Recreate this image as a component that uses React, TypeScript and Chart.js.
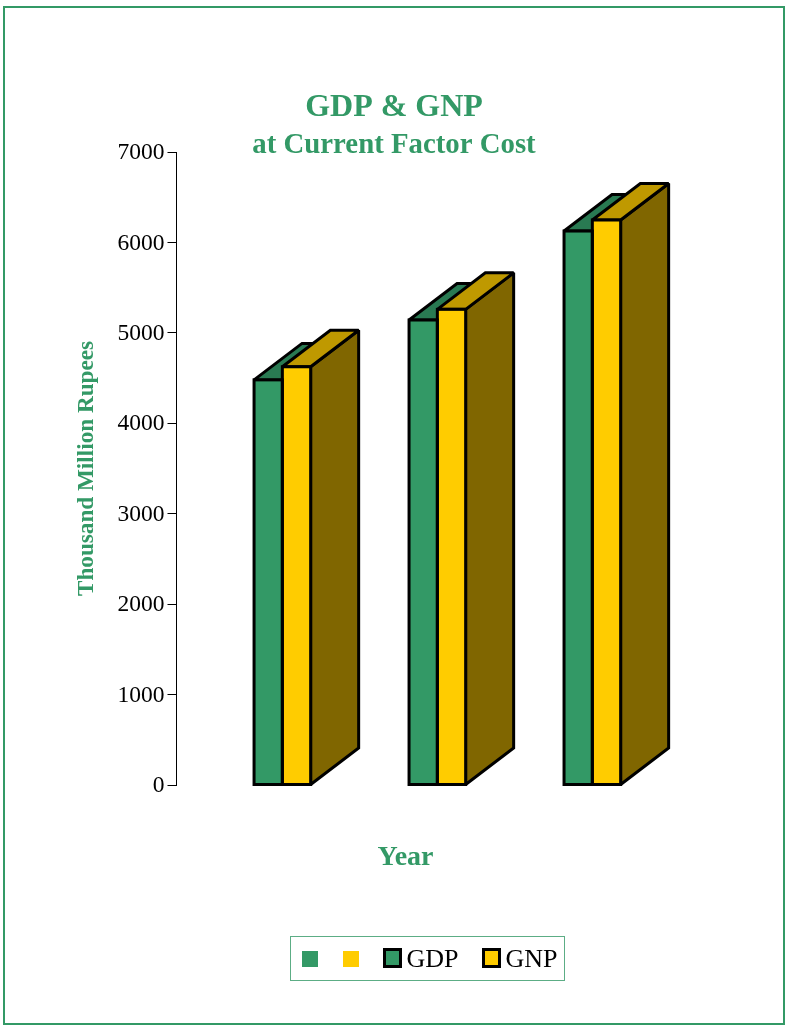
import React, { useEffect, useRef } from "react";
import { Chart, registerables } from "chart.js";

Chart.register(...registerables);

const groupPositions = [0, 1, 2];
const gdpValues = [4480, 5142, 6126];
const gnpValues = [4625, 5260, 6248];
const seriesNames = ["GDP", "GNP"];
const yTicks = { min: 0, max: 7000, step: 1000 };

const GREEN = "#339966";
const YELLOW = "#FFCC00";
const TOPS = ["#297A52", "#BF9900"];
const SIDES = ["#1A4D33", "#806600"];
const SERIF = "'Liberation Serif', 'Times New Roman', serif";
const DEPTH_X = 48;
const DEPTH_Y = 36.5;
const STROKE = 3;

const poly = (ctx: CanvasRenderingContext2D, pts: number[][], fill: string) => {
  ctx.beginPath();
  pts.forEach((p, i) => (i ? ctx.lineTo(p[0], p[1]) : ctx.moveTo(p[0], p[1])));
  ctx.closePath();
  ctx.fillStyle = fill;
  ctx.fill();
  ctx.stroke();
};

const bar3d = {
  id: "bar3d",
  afterLayout(chart: any) {
    // centre the title and subtitle on the page, not on the narrower plot box
    chart.boxes.forEach((b: any) => {
      if (b.options && b.options.text) {
        b.left = 0;
        b.right = 788;
        b.width = 788;
      }
    });
  },
  beforeDatasetsDraw(chart: any) {
    const { ctx } = chart;
    ctx.save();
    ctx.strokeStyle = "#000";
    ctx.lineWidth = STROKE;
    ctx.lineJoin = "miter";
    ctx.miterLimit = 2;
    chart.data.datasets.forEach((_: any, di: number) => {
      chart.getDatasetMeta(di).data.forEach((b: any) => {
        const l = b.x - b.width / 2;
        const r = b.x + b.width / 2;
        poly(ctx, [[r, b.y], [r + DEPTH_X, b.y - DEPTH_Y], [r + DEPTH_X, b.base - DEPTH_Y], [r, b.base]], SIDES[di]);
        poly(ctx, [[l, b.y], [l + DEPTH_X, b.y - DEPTH_Y], [r + DEPTH_X, b.y - DEPTH_Y], [r, b.y]], TOPS[di]);
      });
    });
    ctx.restore();
  },
  afterDatasetsDraw(chart: any) {
    const { ctx } = chart;
    ctx.save();
    ctx.strokeStyle = "#000";
    ctx.lineWidth = STROKE;
    chart.data.datasets.forEach((_: any, di: number) => {
      chart.getDatasetMeta(di).data.forEach((b: any) => {
        ctx.strokeRect(b.x - b.width / 2, b.y, b.width, b.base - b.y);
      });
    });
    ctx.restore();
  },
};

const abs = (left: number, top: number, width: number, height: number): React.CSSProperties => ({
  position: "absolute",
  left,
  top,
  width,
  height,
  boxSizing: "border-box",
});

const legendText = (left: number, text: string) => (
  <span
    style={{
      position: "absolute",
      left,
      top: 944,
      fontFamily: SERIF,
      fontSize: 26,
      lineHeight: "30px",
      color: "#000",
      whiteSpace: "nowrap",
    }}
  >
    {text}
  </span>
);

export default function App() {
  const ref = useRef<HTMLCanvasElement>(null);

  useEffect(() => {
    const chart = new Chart(ref.current as HTMLCanvasElement, {
      type: "bar",
      data: {
        datasets: [
          {
            label: seriesNames[0],
            data: groupPositions.map((x, i) => ({ x, y: gdpValues[i] })),
            backgroundColor: GREEN,
            borderWidth: 0,
            barThickness: 28.3,
            clip: false,
          },
          {
            label: seriesNames[1],
            data: groupPositions.map((x, i) => ({ x, y: gnpValues[i] })),
            backgroundColor: YELLOW,
            borderWidth: 0,
            barThickness: 28.3,
            clip: false,
          },
        ],
      } as any,
      options: {
        responsive: false,
        animation: false,
        devicePixelRatio: 1,
        layout: { padding: { left: 0, right: 151.5, top: 0, bottom: 0 }, autoPadding: false },
        plugins: {
          legend: { display: false },
          tooltip: { enabled: false },
          title: {
            display: true,
            text: "GDP & GNP",
            color: GREEN,
            font: { family: SERIF, size: 32, weight: "bold", lineHeight: 1.2 },
            padding: { top: 89, bottom: 0 },
          },
          subtitle: {
            display: true,
            text: "at Current Factor Cost",
            color: GREEN,
            font: { family: SERIF, size: 28.8, weight: "bold", lineHeight: 0.389 },
            padding: { top: 12.8, bottom: 0.6 },
          },
        },
        scales: {
          x: {
            type: "linear",
            offset: false,
            min: -0.683,
            max: 2.272,
            grid: { display: false },
            border: { display: false },
            ticks: { display: false },
            afterFit: (s: any) => {
              s.height = 240;
            },
            title: {
              display: true,
              text: "Year",
              color: GREEN,
              font: { family: SERIF, size: 28, weight: "bold" },
              padding: { top: 0, bottom: 150 },
            },
          },
          y: {
            min: yTicks.min,
            max: yTicks.max,
            afterFit: (s: any) => {
              s.width = 176.5;
            },
            grid: { drawOnChartArea: false, tickLength: 9, color: "#000", tickWidth: 1 },
            border: { display: true, color: "#000", width: 1 },
            ticks: {
              stepSize: yTicks.step,
              color: "#000",
              padding: 3,
              labelOffset: 1,
              font: { family: SERIF, size: 23.5 },
              callback: (v: any) => String(v),
            },
            title: {
              display: true,
              text: "Thousand Million Rupees",
              color: GREEN,
              font: { family: SERIF, size: 23.2, weight: "bold" },
              padding: { top: 73, bottom: 0 },
            },
          },
        },
      } as any,
      plugins: [bar3d],
    });
    return () => chart.destroy();
  }, []);

  return (
    <div style={abs(0, 0, 786, 1025)}>
      <canvas ref={ref} width={786} height={1025} style={{ ...abs(0, 0, 786, 1025), display: "block" }} />
      <div style={{ ...abs(3, 6, 782, 1019), border: `2px solid ${GREEN}` }} />
      <div style={{ ...abs(290, 935.5, 275, 45), border: `1px solid ${GREEN}`, opacity: 0.8 }} />
      <div style={{ ...abs(302, 951, 16, 16), background: GREEN }} />
      <div style={{ ...abs(343, 951, 16, 16), background: YELLOW }} />
      <div style={{ ...abs(383, 947.5, 19, 20), background: GREEN, border: "3.5px solid #000" }} />
      {legendText(406.5, seriesNames[0])}
      <div style={{ ...abs(482, 947.5, 19, 20), background: YELLOW, border: "3.5px solid #000" }} />
      {legendText(505.5, seriesNames[1])}
    </div>
  );
}
